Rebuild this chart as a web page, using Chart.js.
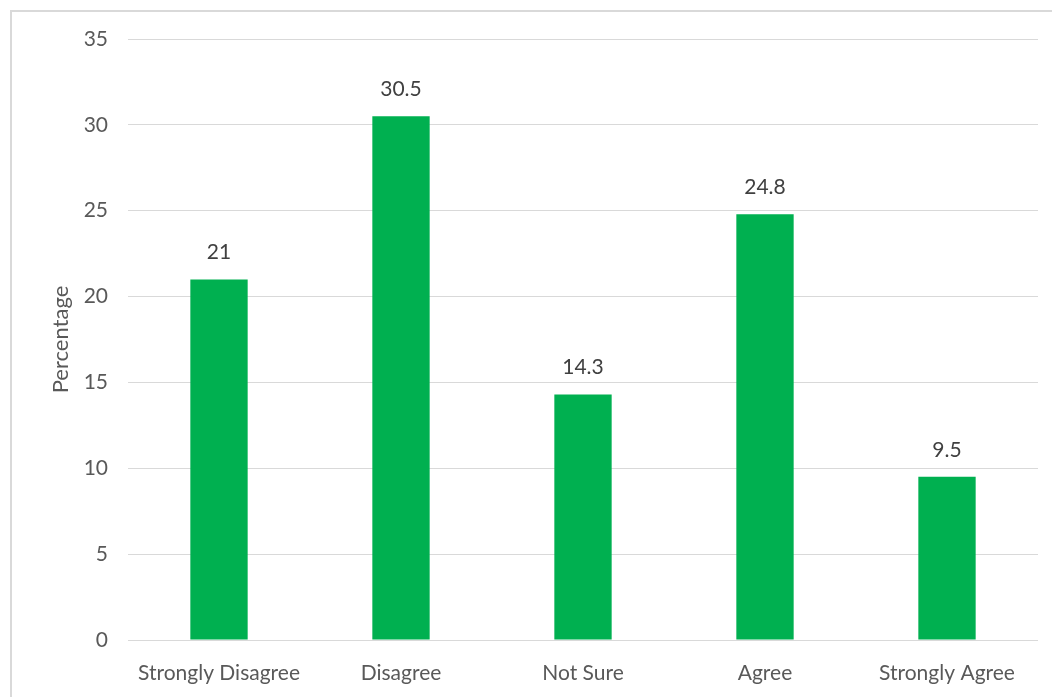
<!DOCTYPE html>
<html><head><meta charset="utf-8">
<script src="https://cdn.jsdelivr.net/npm/chart.js@4/dist/chart.umd.min.js"></script>
<style>
html,body{margin:0;padding:0;background:#fff;overflow:hidden;}
#frame{position:absolute;left:10px;top:10px;width:1200px;height:900px;border:2px solid #d9d9d9;box-sizing:border-box;}
#wrap{position:absolute;left:0;top:0;width:1052px;height:697px;}
</style></head>
<body>
<div id="frame"></div>
<div id="wrap"><canvas id="c" width="1052" height="697"></canvas></div>
<script>
const categories = ["Strongly Disagree","Disagree","Not Sure","Agree","Strongly Agree"];
const percentages = [21, 30.5, 14.3, 24.8, 9.5];
const yTicks = [0,5,10,15,20,25,30,35];

const FONT = "Lato, 'Open Sans', sans-serif";
const labelPlugin = {
  id:'barLabels',
  afterDatasetsDraw(chart){
    const ctx = chart.ctx;
    const meta = chart.getDatasetMeta(0);
    ctx.save();
    ctx.font = "21px " + FONT;
    ctx.fillStyle = "#404040";
    ctx.textAlign = "center";
    ctx.textBaseline = "middle";
    meta.data.forEach((bar,i)=>{
      ctx.fillText(String(percentages[i]), bar.x, bar.y - 27);
    });
    ctx.restore();
  }
};

new Chart(document.getElementById('c'), {
  type:'bar',
  data:{labels:categories, datasets:[{data:percentages, backgroundColor:'#00B050', barPercentage:0.315, categoryPercentage:1}]},
  options:{
    responsive:false, animation:false,
    layout:{padding:{left:40, right:14, top:39, bottom:0}},
    plugins:{legend:{display:false}, tooltip:{enabled:false}},
    scales:{
      x:{
        grid:{display:false, drawTicks:false},
        border:{display:false},
        ticks:{color:'#595959', font:{family:FONT, size:21}, padding:21, maxRotation:0, autoSkip:false},
        afterFit(s){ s.height = 57; }
      },
      y:{
        min:0, max:35,
        afterBuildTicks(s){ s.ticks = yTicks.map(v=>({value:v})); },
        grid:{color:'#d9d9d9', lineWidth:1, drawTicks:false},
        border:{display:false},
        ticks:{color:'#595959', font:{family:FONT, size:21}, padding:20},
        title:{display:true, text:'Percentage', color:'#595959', font:{family:FONT, size:22}, padding:{top:8,bottom:0}},
        afterFit(s){ s.width = 88; }
      }
    }
  },
  plugins:[labelPlugin]
});
</script>
</body></html>
